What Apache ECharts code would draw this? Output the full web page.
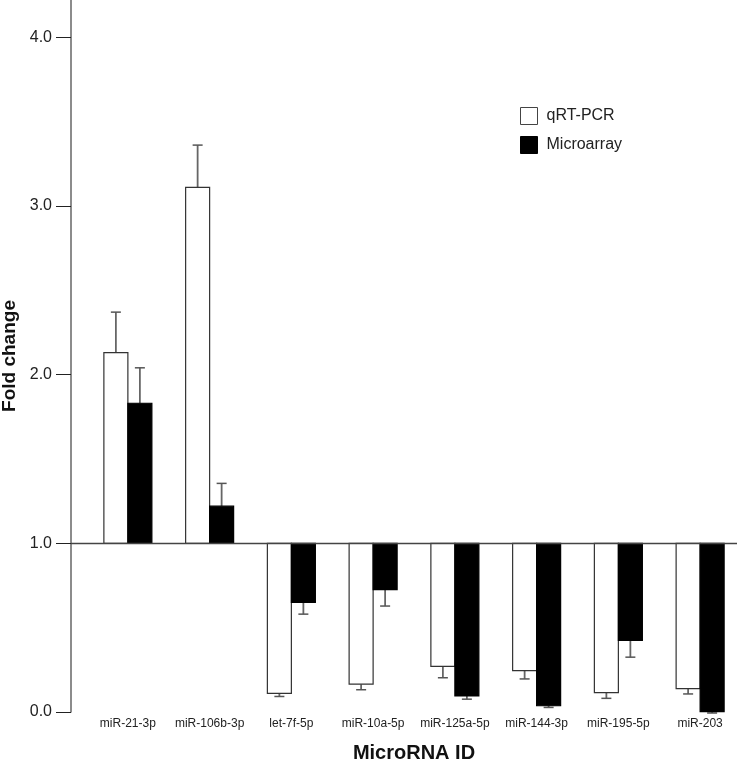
<!DOCTYPE html>
<html>
<head>
<meta charset="utf-8">
<script src="https://cdn.jsdelivr.net/npm/echarts@6/dist/echarts.min.js"></script>
<style>html,body{margin:0;padding:0;background:#fff;}#c{width:738px;height:760px;}</style>
</head>
<body>
<div id="c"></div>
<script>
var categories = ['miR-21-3p','miR-106b-3p','let-7f-5p','miR-10a-5p','miR-125a-5p','miR-144-3p','miR-195-5p','miR-203'];
var qrtpcr = [2.13, 3.11, 0.11, 0.165, 0.27, 0.245, 0.115, 0.138];
var qrtpcrErr = [0.24, 0.25, 0.018, 0.033, 0.067, 0.049, 0.034, 0.031];
var microarray = [1.83, 1.22, 0.65, 0.725, 0.095, 0.037, 0.425, 0.002];
var microarrayErr = [0.21, 0.135, 0.07, 0.097, 0.019, 0.01, 0.10, 0.008];
var yTicks = [0, 1, 2, 3, 4];
var baseline = 1;

var FONT = 'Liberation Sans, Arial, Helvetica, sans-serif';
var chart = echarts.init(document.getElementById('c'), null, {renderer: 'canvas'});

function makeData(vals, errs) {
  return vals.map(function (v, i) { return [i, v, errs[i]]; });
}

function barRenderer(side, fill, stroke) {
  return function (params, api) {
    var i = api.value(0), v = api.value(1), e = api.value(2);
    var barW = 24, capW = 10;
    var c = api.coord([i, v]);
    var b = api.coord([i, baseline]);
    var x0 = side === 0 ? c[0] - barW : c[0];
    var dir = v >= baseline ? 1 : -1;
    var ee = api.coord([i, v + dir * e]);
    var xm = x0 + barW / 2;
    var yTop = Math.min(c[1], b[1]);
    var h = Math.abs(c[1] - b[1]);
    return {
      type: 'group',
      children: [
        {type: 'line', shape: {x1: xm, y1: c[1], x2: xm, y2: ee[1]}, style: {stroke: '#666', lineWidth: 1.8}},
        {type: 'line', shape: {x1: xm - capW / 2, y1: ee[1], x2: xm + capW / 2, y2: ee[1]}, style: {stroke: '#555', lineWidth: 1.5}},
        {type: 'rect', shape: {x: x0, y: yTop, width: barW, height: h}, style: {fill: fill, stroke: stroke, lineWidth: 1.2}}
      ]
    };
  };
}

var option = {
  backgroundColor: '#fff',
  animation: false,
  grid: [
    {left: 71, right: 1, top: 0, bottom: 48, containLabel: false, outerBoundsMode: 'none'},
    {left: 87, width: 654, top: 0, bottom: 48, containLabel: false, outerBoundsMode: 'none'}
  ],
  legend: {
    orient: 'vertical', left: 515, top: 102,
    itemWidth: 17, itemHeight: 17, itemGap: 11,
    textStyle: {fontFamily: FONT, fontSize: 16, color: '#222', padding: [0, 0, 0, 4]},
    data: [
      {name: 'qRT-PCR', icon: 'rect', itemStyle: {color: '#fff', borderColor: '#444', borderWidth: 1}},
      {name: 'Microarray', icon: 'rect', itemStyle: {color: '#000', borderColor: '#000', borderWidth: 1}}
    ]
  },
  xAxis: [
    {type: 'value', gridIndex: 0, min: 0, max: 1, show: false},
    {type: 'category', gridIndex: 1, data: categories,
     axisLine: {show: false}, axisTick: {show: false}, splitLine: {show: false},
     axisLabel: {fontFamily: FONT, fontSize: 12, color: '#222', margin: 6, interval: 0},
     name: 'MicroRNA ID', nameLocation: 'middle', nameGap: 31,
     nameTextStyle: {fontFamily: FONT, fontSize: 20, fontWeight: 'bold', color: '#111'}}
  ],
  yAxis: [
    {type: 'value', gridIndex: 0, min: 0, max: 4.22,
     axisLine: {show: true, lineStyle: {color: '#666', width: 1.5}},
     axisTick: {show: true, length: 15, customValues: yTicks, lineStyle: {color: '#222', width: 1}},
     axisLabel: {customValues: yTicks, margin: 19, fontFamily: FONT, fontSize: 16, color: '#222',
                 formatter: function (v) { return v.toFixed(1); }},
     splitLine: {show: false},
     name: 'Fold change', nameLocation: 'middle', nameGap: 42,
     nameTextStyle: {fontFamily: FONT, fontSize: 19, fontWeight: 'bold', color: '#111'}},
    {type: 'value', gridIndex: 1, min: 0, max: 4.22, show: false}
  ],
  series: [
    {type: 'line', xAxisIndex: 0, yAxisIndex: 0, data: [], silent: true,
     markLine: {silent: true, symbol: ['none', 'none'], label: {show: false},
                lineStyle: {color: '#444', width: 1.3, type: 'solid'},
                data: [{yAxis: baseline}]}},
    {name: 'qRT-PCR', type: 'custom', xAxisIndex: 1, yAxisIndex: 1,
     itemStyle: {color: '#fff', borderColor: '#444'},
     renderItem: barRenderer(0, '#fff', '#333'),
     encode: {x: 0, y: 1}, data: makeData(qrtpcr, qrtpcrErr)},
    {name: 'Microarray', type: 'custom', xAxisIndex: 1, yAxisIndex: 1,
     itemStyle: {color: '#000'},
     renderItem: barRenderer(1, '#000', '#000'),
     encode: {x: 0, y: 1}, data: makeData(microarray, microarrayErr)}
  ]
};
chart.setOption(option);
</script>
</body>
</html>
